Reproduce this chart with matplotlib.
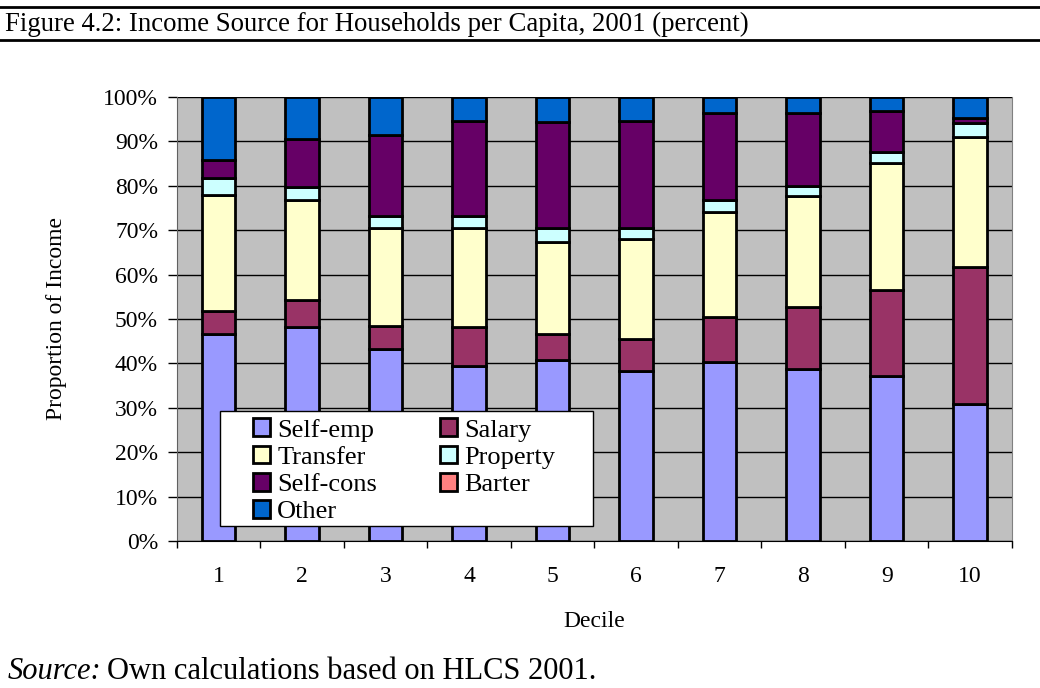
import numpy as np
import matplotlib.pyplot as plt
from matplotlib.lines import Line2D
from matplotlib.patches import Rectangle
from matplotlib.ticker import FixedLocator, PercentFormatter

plt.rcParams['font.family'] = ['Liberation Serif', 'DejaVu Serif']

deciles = ['1', '2', '3', '4', '5', '6', '7', '8', '9', '10']

# shares of income (percent)
self_emp = [46.6, 48.3, 43.2, 39.5, 40.8, 38.2, 40.2, 38.7, 37.2, 30.9]
salary = [5.2, 6.0, 5.3, 8.6, 5.8, 7.4, 10.3, 14.1, 19.3, 30.7]
transfer = [26.1, 22.4, 22.1, 22.5, 20.8, 22.4, 23.7, 24.9, 28.7, 29.5]
property_ = [3.9, 3.0, 2.7, 2.6, 3.2, 2.6, 2.5, 2.2, 2.5, 3.0]
self_cons = [4.0, 10.8, 18.2, 21.5, 23.8, 24.1, 19.6, 16.6, 9.2, 1.1]
barter = [0.0, 0.0, 0.0, 0.0, 0.0, 0.0, 0.0, 0.0, 0.0, 0.0]
other = [14.2, 9.5, 8.5, 5.3, 5.6, 5.3, 3.7, 3.5, 3.1, 4.8]

series = [
    ('Self-emp', self_emp, '#9999FF'),
    ('Salary', salary, '#993366'),
    ('Transfer', transfer, '#FFFFCC'),
    ('Property', property_, '#CCFFFF'),
    ('Self-cons', self_cons, '#660066'),
    ('Barter', barter, '#FF8080'),
    ('Other', other, '#0066CC'),
]

fig = plt.figure(figsize=(10.4, 6.88), dpi=100)
ax = fig.add_axes([0.170, 0.2137, 0.803, 0.6453])
ax.set_facecolor('#C0C0C0')

x = np.arange(1, len(deciles) + 1)
bottom = np.zeros(len(deciles))
handles = {}
for name, vals, col in series:
    vals = np.array(vals)
    b = ax.bar(x, vals, 0.4, bottom=bottom, color=col, edgecolor='black',
               linewidth=2, label=name, zorder=3)
    handles[name] = b
    bottom += vals

ax.set_xlim(0.5, 10.5)
ax.set_ylim(0, 100)
ax.set_yticks(np.arange(0, 101, 10))
ax.yaxis.set_major_formatter(PercentFormatter(decimals=0))
ax.yaxis.grid(True, color='black', linewidth=1, zorder=1)
ax.set_axisbelow(True)

ax.set_xticks(x)
ax.set_xticklabels(deciles)
ax.xaxis.set_minor_locator(FixedLocator(np.arange(0.5, 10.6, 1)))
ax.tick_params(axis='x', which='major', length=0, pad=18, labelsize=17)
ax.tick_params(axis='x', which='minor', length=5, width=1, direction='out')
ax.tick_params(axis='y', length=6.5, width=1, direction='out', labelsize=17, pad=7)

ax.spines['top'].set_visible(False)
ax.spines['right'].set_color('#808080')
ax.spines['left'].set_color('#606060')
ax.spines['bottom'].set_color('black')

ax.set_ylabel('Proportion of Income', fontsize=17, labelpad=26)
ax.set_xlabel('Decile', fontsize=17, labelpad=17)

# legend box drawn separately so its size matches the original
box = Rectangle((0.0515, 0.034), 0.447, 0.259, transform=ax.transAxes,
                facecolor='white', edgecolor='black', linewidth=1, zorder=4)
ax.add_patch(box)
order = ['Self-emp', 'Transfer', 'Self-cons', 'Other', 'Salary', 'Property', 'Barter']
leg = ax.legend([handles[n] for n in order], order, ncol=2, loc='upper left',
                bbox_to_anchor=(0.091, 0.276), borderaxespad=0, fontsize=19,
                frameon=False, handlelength=0.65, handleheight=0.65,
                handletextpad=0.27, columnspacing=2.4, labelspacing=0.16,
                borderpad=0)
leg.set_zorder(5)

# header rules and caption
fig.add_artist(Line2D([0, 1], [1 - 7 / 688, 1 - 7 / 688], color='black', linewidth=2))
fig.add_artist(Line2D([0, 1], [1 - 40 / 688, 1 - 40 / 688], color='black', linewidth=2))
fig.text(5 / 1040, 1 - 24 / 688, 'Figure 4.2: Income Source for Households per Capita, 2001 (percent)',
         fontsize=19.3, va='center', ha='left')
t1 = fig.text(8 / 1040, 2 / 688, 'Source:', fontsize=22, style='italic', va='bottom')
fig.canvas.draw()
bb = t1.get_window_extent()
fig.text((bb.x1 + 5) / 1040, 2 / 688, 'Own calculations based on HLCS 2001.',
         fontsize=22, va='bottom')

fig.savefig('out.png', dpi=100)
